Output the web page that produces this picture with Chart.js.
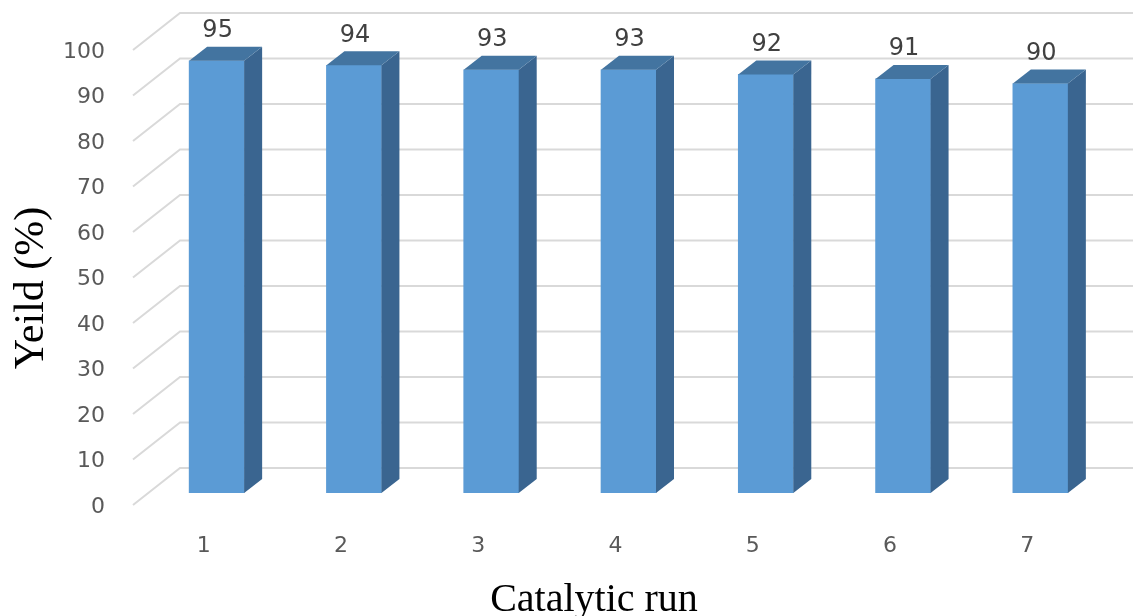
<!DOCTYPE html>
<html>
<head>
<meta charset="utf-8">
<title>Catalyst reusability</title>
<script src="https://cdn.jsdelivr.net/npm/chart.js@4.4.1/dist/chart.umd.min.js"></script>
<style>
  html, body { margin: 0; padding: 0; background: #ffffff; }
  #wrap { width: 1133px; height: 616px; position: relative; }
</style>
</head>
<body>
<div id="wrap"><canvas id="c" width="1133" height="616"></canvas></div>
<script>
// Yield of product for each reuse cycle of the catalyst
const runs = ['1', '2', '3', '4', '5', '6', '7'];
const yields = [95, 94, 93, 93, 92, 91, 90];
const yMin = 0;
const yMax = 100;
const yStep = 10;
const xTitle = 'Catalytic run';
const yTitle = 'Yeild (%)';

// Pseudo-3D look: depth offset of bar sides and of the floor/back wall
const BAR_DX = 18, BAR_DY = -14;       // bar side / top depth
const FRONT_DX = -15, FRONT_DY = 12;   // front edge of the floor relative to bar plane
const BACK_DX = 32, BACK_DY = -25;     // back wall relative to bar plane

const wallPlugin = {
  id: 'wall3d',
  beforeDatasetsDraw(chart) {
    const { ctx, chartArea, scales } = chart;
    const y = scales.y;
    ctx.save();
    ctx.strokeStyle = '#d9d9d9';
    ctx.lineWidth = 2;
    y.ticks.forEach(t => {
      const py = y.getPixelForValue(t.value);
      ctx.beginPath();
      ctx.moveTo(chartArea.left + FRONT_DX, py + FRONT_DY);
      ctx.lineTo(chartArea.left + BACK_DX, py + BACK_DY);
      ctx.lineTo(chart.width, py + BACK_DY);
      ctx.stroke();
    });
    ctx.restore();
  },
  afterDatasetsDraw(chart) {
    const { ctx } = chart;
    const meta = chart.getDatasetMeta(0);
    ctx.save();
    meta.data.forEach((bar, i) => {
      const p = bar.getProps(['x', 'y', 'base', 'width'], true);
      const left = p.x - p.width / 2;
      const right = p.x + p.width / 2;
      // side face
      ctx.fillStyle = '#3a6590';
      ctx.beginPath();
      ctx.moveTo(right, p.y);
      ctx.lineTo(right + BAR_DX, p.y + BAR_DY);
      ctx.lineTo(right + BAR_DX, p.base + BAR_DY);
      ctx.lineTo(right, p.base);
      ctx.closePath();
      ctx.fill();
      // top face
      ctx.fillStyle = '#4374a0';
      ctx.beginPath();
      ctx.moveTo(left, p.y);
      ctx.lineTo(left + BAR_DX, p.y + BAR_DY);
      ctx.lineTo(right + BAR_DX, p.y + BAR_DY);
      ctx.lineTo(right, p.y);
      ctx.closePath();
      ctx.fill();
      // value label
      ctx.fillStyle = '#404040';
      ctx.font = '24px "DejaVu Sans"';
      ctx.textAlign = 'center';
      ctx.textBaseline = 'middle';
      ctx.fillText(String(chart.data.datasets[0].data[i]), p.x + 1, p.y - 30);
    });
    ctx.restore();
  },
  afterDraw(chart) {
    const { ctx } = chart;
    ctx.save();
    ctx.fillStyle = '#000000';
    ctx.textAlign = 'center';
    ctx.textBaseline = 'alphabetic';
    // axis titles
    ctx.font = '40px "Liberation Serif"';
    ctx.fillText(xTitle, 594, 611);
    ctx.translate(43, 288);
    ctx.rotate(-Math.PI / 2);
    ctx.font = '42px "Liberation Serif"';
    ctx.fillText(yTitle, 0, 0);
    ctx.restore();
  }
};

new Chart(document.getElementById('c'), {
  type: 'bar',
  data: {
    labels: runs,
    datasets: [{
      data: yields,
      backgroundColor: '#5b9bd5',
      borderWidth: 0,
      barThickness: 55
    }]
  },
  options: {
    responsive: false,
    maintainAspectRatio: false,
    animation: false,
    events: [],
    layout: { padding: { left: 0, right: 24, top: 38, bottom: 0 } },
    plugins: {
      legend: { display: false },
      tooltip: { enabled: false }
    },
    scales: {
      x: {
        afterFit(scale) {
          scale.height = 123;
          scale.paddingLeft = 0;
          scale.paddingRight = 0;
        },
        grid: { display: false, drawTicks: false },
        border: { display: false },
        ticks: {
          color: '#595959',
          font: { family: 'DejaVu Sans', size: 22 },
          padding: 40,
          labelOffset: -13
        },
        title: { display: false }
      },
      y: {
        afterFit(scale) {
          scale.width = 148;
          scale.paddingTop = 0;
          scale.paddingBottom = 0;
        },
        min: yMin,
        max: yMax,
        grid: { display: false, drawTicks: false },
        border: { display: false },
        ticks: {
          stepSize: yStep,
          color: '#595959',
          font: { family: 'DejaVu Sans', size: 22 },
          padding: 43,
          labelOffset: 14
        },
        title: { display: false }
      }
    }
  },
  plugins: [wallPlugin]
});
</script>
</body>
</html>
